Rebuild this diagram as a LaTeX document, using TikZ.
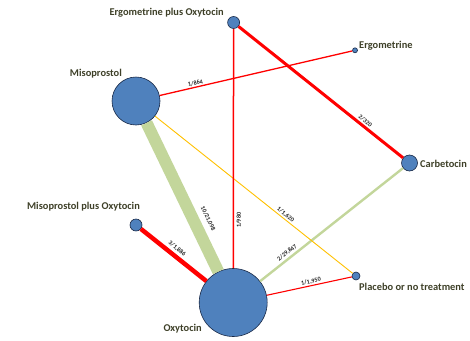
\documentclass[tikz,border=0pt]{standalone}
\usepackage{fontspec}
\setmainfont{Carlito}
\definecolor{nodeblue}{RGB}{79,129,189}
\definecolor{rimblue}{RGB}{24,40,70}
\definecolor{namegray}{RGB}{62,64,40}
\definecolor{linkred}{RGB}{255,0,0}
\definecolor{linkgreen}{RGB}{195,214,155}
\definecolor{linkgold}{RGB}{255,192,0}
\begin{document}
\begin{tikzpicture}[x=1pt,y=-1pt,
  trt/.style={circle,draw=rimblue,fill=nodeblue,line width=0.6pt,inner sep=0pt,minimum size=#1},
  tname/.style={font=\bfseries\fontsize{10.4}{12}\selectfont,text=namegray,inner sep=0pt},
  elabel/.style={font=\bfseries\fontsize{6.2}{7}\selectfont,text=black!85,inner sep=1pt},
  link/.style={draw=#1,line cap=butt},
]
\useasboundingbox (0,0) rectangle (470,340);

% treatments
\node[trt=12pt] (ergoxy) at (233.6,22.5) {};
\node[trt=5pt]  (ergo)   at (355,50.3) {};
\node[trt=48pt] (miso)   at (136,101) {};
\node[trt=16pt] (carb)   at (409.5,163) {};
\node[trt=12pt] (misoxy) at (136,225) {};
\node[trt=68pt] (oxy)    at (233.2,302.5) {};
\node[trt=8pt]  (plac)   at (356,276) {};

% treatment names
\node[tname,anchor=east] (lergoxy) at (224,13) {Ergometrine plus Oxytocin};
\node[tname,anchor=west] (lergo)   at (359,45.5) {Ergometrine};
\node[tname,anchor=east] (lmiso)   at (122,73.5) {Misoprostol};
\node[tname,anchor=west] (lcarb)   at (420,163.5) {Carbetocin};
\node[tname,anchor=east] (lmisoxy) at (140,207) {Misoprostol plus Oxytocin};
\node[tname,anchor=east] (loxy)    at (202,328.5) {Oxytocin};
\node[tname,anchor=west] (lplac)   at (359,287) {Placebo or no treatment};

% comparisons: line width grows with the number of trials
\draw[link=linkgreen,line width=12pt] (miso) -- node[elabel,sloped,pos=0.685,above=4pt] {10/21,098} (oxy);
\draw[link=linkgreen,line width=2.4pt] (oxy) -- node[elabel,sloped,pos=0.213,above=0.6pt] {2/29,847} (carb);
\draw[link=linkgold,line width=0.9pt] (miso) -- node[elabel,sloped,pos=0.648,above] {1/1,620} (plac);
\draw[link=linkred,line width=1.3pt] (miso) -- node[elabel,sloped,pos=0.19,above] {1/864} (ergo);
\draw[link=linkred,line width=1.5pt] (oxy) -- node[elabel,pos=0.2,rotate=90,anchor=north,yshift=-1.5pt] {1/980} (ergoxy);
\draw[link=linkred,line width=3pt] (ergoxy) -- node[elabel,sloped,pos=0.75,above=0.6pt] {2/320} (carb);
\draw[link=linkred,line width=4.5pt] (misoxy) -- node[elabel,sloped,pos=0.486,above=1.2pt] {3/1,886} (oxy);
\draw[link=linkred,line width=1.1pt] (oxy) -- node[elabel,sloped,pos=0.53,above] {1/1,950} (plac);
\end{tikzpicture}
\end{document}
